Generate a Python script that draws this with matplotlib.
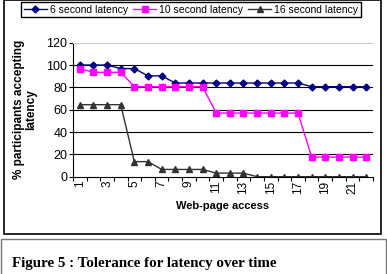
import matplotlib
matplotlib.use("Agg")
from matplotlib import pyplot as plt
from matplotlib.patches import Rectangle

# Data
pages = list(range(1, 23))
lat_6 = [100, 100, 100, 96.8, 96.8, 90.3, 90.3] + [83.9] * 10 + [80.6] * 5
lat_10 = [96.8, 93.5, 93.5, 93.5] + [80.6] * 6 + [57] * 7 + [17.6] * 5
lat_16 = [64.5, 64.5, 64.5, 64.5, 13.5, 13.5, 6.5, 6.5, 6.5, 6.5, 3.2, 3.2, 3.2] + [0] * 9
labels = ["6 second latency", "10 second latency", "16 second latency"]
yticks = [0, 20, 40, 60, 80, 100, 120]
xticks = list(range(1, 23, 2))

W, H = 387, 274
plt.rcParams['font.family'] = ['Liberation Sans', 'DejaVu Sans']
fig = plt.figure(figsize=(W / 100, H / 100), dpi=100)

# outer chart frame and caption box
fig.patches.append(Rectangle((4 / W, 1 - 234 / H), 377 / W, 234 / H, transform=fig.transFigure,
                             fill=False, edgecolor='black', lw=1.2))
fig.patches.append(Rectangle((1 / W, -0.05), 385 / W, 1 - 239 / H + 0.05, transform=fig.transFigure,
                             fill=False, edgecolor='#777777', lw=1.0))

ax = fig.add_axes([73 / W, 1 - 176.7 / H, 300 / W, 134 / H])
ax.plot(pages, lat_6, color='#000080', marker='D', ms=3.5, lw=1, label=labels[0])
ax.plot(pages, lat_10, color='#FF00FF', marker='s', ms=5, lw=1, label=labels[1])
ax.plot(pages, lat_16, color='#333333', marker='^', ms=5, lw=1, label=labels[2])

ax.set_xlim(0.5, 22.5)
ax.set_ylim(0, 120)
ax.set_yticks(yticks)
ax.set_xticks(xticks)
ax.set_xticks([k + 0.5 for k in range(0, 23)], minor=True)
ax.tick_params(axis='x', which='major', length=0, labelrotation=90, labelsize=8.5, pad=3)
ax.tick_params(axis='x', which='minor', length=3, direction='out', width=0.8)
ax.tick_params(axis='y', length=3, width=0.8, labelsize=9, pad=1)
for y in yticks[1:-1]:
    ax.axhline(y, color='black', lw=0.8, zorder=0)
ax.spines['right'].set_visible(False)
ax.spines['top'].set_color('#cccccc')
ax.spines['left'].set_linewidth(0.8)
ax.spines['bottom'].set_linewidth(0.8)

ax.set_xlabel('Web-page access', fontsize=8, fontweight='bold', labelpad=5)
ax.set_ylabel('% participants accepting\nlatency', fontsize=8.5, fontweight='bold', labelpad=7,
              linespacing=1.0)

fig.legend(loc='upper center', bbox_to_anchor=(191 / W, 1 - 2 / H), ncol=3, fontsize=7.5,
           frameon=True, fancybox=False, edgecolor='black', framealpha=1, handlelength=2.2,
           columnspacing=0.5, handletextpad=0.3, borderpad=0.25, borderaxespad=0)

fig.text(12 / W, 1 - 263 / H, 'Figure 5 : Tolerance for latency over time', fontsize=10.8,
         fontweight='bold', family='Liberation Serif', va='center')

fig.savefig('out.png', dpi=100)
